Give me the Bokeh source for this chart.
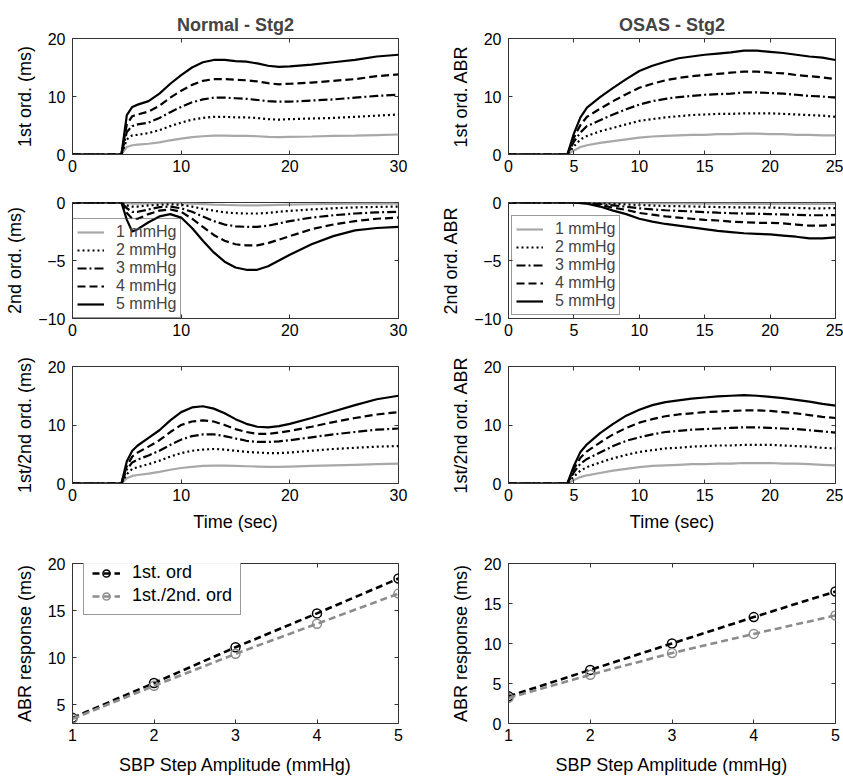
from bokeh.plotting import figure
from bokeh.models import LinearAxis, FixedTicker, Range1d, Legend, LegendItem
from bokeh.models.labeling import CustomLabelingPolicy
from bokeh.layouts import column, row
from bokeh.embed import file_html
from bokeh.resources import INLINE

FONT = "Liberation Sans"

# ---------------- data ----------------
amplitudes = ["1 mmHg", "2 mmHg", "3 mmHg", "4 mmHg", "5 mmHg"]

t_norm = [0, 4.5, 5, 5.5, 6, 7, 8, 9, 10, 11, 12, 13, 14, 15, 16, 17, 18, 19, 20, 22, 24, 26, 28, 30]
t_osas = [0, 4.5, 5, 5.5, 6, 7, 8, 9, 10, 11, 12, 13, 14, 15, 16, 17, 18, 19, 20, 21, 22, 23, 24, 25]

# Normal - 1st order
n1_1 = [0, 0, 1.3, 1.6, 1.7, 1.85, 2.1, 2.45, 2.75, 3.0, 3.15, 3.25, 3.25, 3.2, 3.2, 3.15, 3.05, 3.0, 3.05, 3.1, 3.2, 3.25, 3.35, 3.45]
n1_2 = [0, 0, 2.6, 3.3, 3.4, 3.7, 4.2, 4.9, 5.5, 6.0, 6.3, 6.5, 6.5, 6.4, 6.4, 6.3, 6.1, 6.0, 6.1, 6.2, 6.3, 6.5, 6.7, 6.9]
n1_3 = [0, 0, 3.9, 4.9, 5.2, 5.5, 6.3, 7.3, 8.2, 9.0, 9.5, 9.8, 9.8, 9.7, 9.6, 9.4, 9.2, 9.1, 9.1, 9.3, 9.5, 9.8, 10.1, 10.3]
n1_4 = [0, 0, 5.2, 6.6, 6.9, 7.4, 8.4, 9.8, 11.0, 12.0, 12.7, 13.0, 13.0, 12.9, 12.8, 12.6, 12.3, 12.1, 12.2, 12.4, 12.7, 13.0, 13.5, 13.8]
n1_5 = [0, 0, 6.8, 8.2, 8.6, 9.2, 10.5, 12.2, 13.7, 15.0, 15.9, 16.3, 16.3, 16.1, 16.0, 15.7, 15.3, 15.1, 15.2, 15.5, 15.9, 16.3, 16.9, 17.2]

# Normal - 2nd order
n2_1 = [0, 0, -0.05, -0.1, -0.1, -0.07, -0.05, -0.04, -0.06, -0.1, -0.14, -0.18, -0.21, -0.23, -0.24, -0.24, -0.22, -0.2, -0.18, -0.15, -0.12, -0.1, -0.09, -0.09]
n2_2 = [0, 0, -0.25, -0.35, -0.35, -0.25, -0.2, -0.15, -0.2, -0.35, -0.55, -0.7, -0.85, -0.92, -0.95, -0.95, -0.9, -0.8, -0.72, -0.6, -0.5, -0.42, -0.38, -0.35]
n2_3 = [0, 0, -0.5, -0.8, -0.8, -0.6, -0.4, -0.35, -0.5, -0.8, -1.2, -1.6, -1.9, -2.05, -2.1, -2.1, -2.0, -1.8, -1.6, -1.3, -1.1, -0.95, -0.85, -0.8]
n2_4 = [0, 0, -0.9, -1.4, -1.4, -1.0, -0.7, -0.6, -0.8, -1.4, -2.1, -2.8, -3.3, -3.6, -3.7, -3.7, -3.5, -3.2, -2.9, -2.3, -1.9, -1.6, -1.4, -1.3]
n2_5 = [0, 0, -1.5, -2.5, -2.3, -1.7, -1.2, -1.0, -1.3, -2.2, -3.3, -4.3, -5.1, -5.6, -5.8, -5.8, -5.5, -5.0, -4.5, -3.6, -2.9, -2.4, -2.2, -2.1]

# Normal - 1st/2nd order
n3_1 = [0, 0, 0.9, 1.3, 1.45, 1.7, 2.0, 2.35, 2.65, 2.85, 3.0, 3.05, 3.05, 3.0, 2.95, 2.9, 2.85, 2.85, 2.9, 3.0, 3.1, 3.2, 3.3, 3.4]
n3_2 = [0, 0, 1.6, 2.5, 2.8, 3.3, 3.9, 4.6, 5.2, 5.6, 5.8, 5.9, 5.8, 5.6, 5.4, 5.3, 5.2, 5.2, 5.3, 5.6, 5.9, 6.1, 6.3, 6.4]
n3_3 = [0, 0, 2.4, 3.6, 4.1, 4.8, 5.6, 6.6, 7.5, 8.1, 8.4, 8.4, 8.1, 7.7, 7.3, 7.1, 7.1, 7.2, 7.4, 7.9, 8.4, 8.8, 9.2, 9.4]
n3_4 = [0, 0, 3.0, 4.6, 5.3, 6.3, 7.4, 8.8, 10.0, 10.6, 10.8, 10.6, 10.0, 9.3, 8.8, 8.5, 8.5, 8.7, 9.0, 9.7, 10.5, 11.2, 11.8, 12.2]
n3_5 = [0, 0, 3.8, 5.6, 6.5, 7.8, 9.1, 10.8, 12.2, 13.0, 13.2, 12.8, 12.0, 11.0, 10.2, 9.7, 9.6, 9.8, 10.2, 11.2, 12.3, 13.4, 14.4, 15.0]

# OSAS - 1st order
o1_1 = [0, 0, 0.7, 1.3, 1.6, 2.0, 2.3, 2.6, 2.9, 3.1, 3.2, 3.3, 3.4, 3.4, 3.5, 3.5, 3.6, 3.6, 3.5, 3.5, 3.4, 3.4, 3.3, 3.3]
o1_2 = [0, 0, 1.4, 2.6, 3.2, 4.0, 4.6, 5.2, 5.8, 6.1, 6.4, 6.6, 6.8, 6.9, 7.0, 7.0, 7.1, 7.1, 7.1, 7.0, 6.9, 6.8, 6.7, 6.5]
o1_3 = [0, 0, 2.2, 3.8, 4.9, 5.9, 6.9, 7.8, 8.6, 9.2, 9.6, 9.9, 10.1, 10.3, 10.4, 10.5, 10.7, 10.7, 10.6, 10.5, 10.3, 10.1, 10.0, 9.8]
o1_4 = [0, 0, 2.9, 5.1, 6.5, 7.9, 9.2, 10.4, 11.5, 12.2, 12.8, 13.2, 13.5, 13.7, 13.9, 14.1, 14.3, 14.3, 14.1, 14.0, 13.7, 13.5, 13.3, 13.0]
o1_5 = [0, 0, 3.6, 6.4, 8.1, 9.9, 11.5, 13.0, 14.4, 15.3, 16.0, 16.6, 16.9, 17.2, 17.4, 17.6, 17.9, 17.9, 17.7, 17.5, 17.2, 16.9, 16.7, 16.3]

# OSAS - 2nd order
o2_1 = [0, 0, 0, 0, -0.005, -0.015, -0.03, -0.04, -0.06, -0.07, -0.07, -0.08, -0.09, -0.09, -0.1, -0.1, -0.11, -0.11, -0.11, -0.11, -0.12, -0.12, -0.12, -0.12]
o2_2 = [0, 0, 0, -0.01, -0.02, -0.06, -0.11, -0.16, -0.22, -0.26, -0.3, -0.32, -0.34, -0.37, -0.39, -0.41, -0.42, -0.43, -0.44, -0.46, -0.47, -0.5, -0.5, -0.48]
o2_3 = [0, 0, 0, -0.02, -0.04, -0.13, -0.25, -0.36, -0.5, -0.6, -0.67, -0.72, -0.77, -0.83, -0.88, -0.92, -0.95, -0.97, -1.0, -1.03, -1.06, -1.1, -1.1, -1.08]
o2_4 = [0, 0, 0, -0.03, -0.06, -0.22, -0.45, -0.64, -0.9, -1.05, -1.2, -1.3, -1.4, -1.5, -1.55, -1.65, -1.7, -1.75, -1.75, -1.8, -1.9, -2.0, -2.0, -1.9]
o2_5 = [0, 0, 0, -0.05, -0.1, -0.35, -0.7, -1.0, -1.4, -1.65, -1.85, -2.0, -2.15, -2.3, -2.45, -2.55, -2.65, -2.7, -2.75, -2.85, -2.95, -3.1, -3.1, -3.0]

# OSAS - 1st/2nd order
o3_1 = [0, 0, 0.6, 1.1, 1.4, 1.8, 2.2, 2.5, 2.8, 3.0, 3.1, 3.2, 3.3, 3.3, 3.4, 3.4, 3.5, 3.5, 3.5, 3.4, 3.4, 3.3, 3.2, 3.1]
o3_2 = [0, 0, 1.2, 2.2, 2.8, 3.6, 4.3, 4.9, 5.4, 5.7, 6.0, 6.1, 6.3, 6.4, 6.5, 6.5, 6.6, 6.6, 6.6, 6.5, 6.4, 6.3, 6.1, 6.0]
o3_3 = [0, 0, 1.9, 3.4, 4.2, 5.3, 6.4, 7.3, 7.9, 8.4, 8.8, 9.0, 9.2, 9.3, 9.4, 9.5, 9.6, 9.6, 9.5, 9.4, 9.3, 9.1, 8.9, 8.7]
o3_4 = [0, 0, 2.5, 4.4, 5.5, 7.0, 8.4, 9.5, 10.4, 11.0, 11.5, 11.8, 12.0, 12.2, 12.3, 12.4, 12.5, 12.5, 12.4, 12.2, 12.0, 11.7, 11.4, 11.2]
o3_5 = [0, 0, 3.0, 5.4, 6.7, 8.6, 10.2, 11.6, 12.6, 13.4, 13.9, 14.2, 14.5, 14.7, 14.9, 15.0, 15.1, 15.0, 14.8, 14.6, 14.3, 14.0, 13.6, 13.3]

# ABR response vs SBP step amplitude
sbp_amp = [1, 2, 3, 4, 5]
norm_first = [3.6, 7.3, 11.1, 14.7, 18.4]
norm_both = [3.5, 7.0, 10.4, 13.6, 16.8]
osas_first = [3.4, 6.7, 10.0, 13.3, 16.5]
osas_both = [3.2, 6.1, 8.8, 11.2, 13.5]

# ---------------- styles ----------------
STYLES = [
    dict(line_color="#a8a8a8", line_dash="solid"),
    dict(line_color="black", line_dash="2 3"),
    dict(line_color="black", line_dash="9 3 2 3"),
    dict(line_color="black", line_dash="8 4"),
    dict(line_color="black", line_dash="solid"),
]
AXIS_COLOR = "#333333"


def make_fig(w, h, bl, br, bt, bb, xr, yr, xt, yt, xlabel=None, ylabel=None, title=None,
             xlabel_standoff=4):
    p = figure(width=w, height=h, x_range=Range1d(*xr), y_range=Range1d(*yr),
               output_backend="svg", toolbar_location=None,
               min_border_left=bl, min_border_right=br,
               min_border_top=bt, min_border_bottom=bb,
               background_fill_color="white", border_fill_color="white")
    p.xgrid.visible = False
    p.ygrid.visible = False
    p.outline_line_color = AXIS_COLOR
    p.outline_line_width = 1
    if title:
        p.title.text = title
        p.title.align = "center"
        p.title.text_font = FONT
        p.title.text_font_size = "18px"
        p.title.text_font_style = "bold"
        p.title.standoff = 7
    p.xaxis.ticker = FixedTicker(ticks=xt)
    p.yaxis.ticker = FixedTicker(ticks=yt)
    for ax in (p.xaxis[0], p.yaxis[0]):
        ax.major_tick_in = 4
        ax.major_tick_out = 0
        ax.minor_tick_in = 0
        ax.minor_tick_out = 0
        ax.axis_line_color = AXIS_COLOR
        ax.major_tick_line_color = AXIS_COLOR
        ax.major_label_text_font = FONT
        ax.major_label_text_font_size = "16px"
        ax.major_label_text_color = "black"
        ax.axis_label_text_font = FONT
        ax.axis_label_text_font_size = "18px"
        ax.axis_label_text_font_style = "normal"
        ax.axis_label_text_color = "black"
    p.xaxis.major_label_standoff = 5
    p.xaxis.axis_label_standoff = xlabel_standoff
    p.yaxis.major_label_standoff = 7
    p.yaxis.axis_label_standoff = 10
    if xlabel:
        p.xaxis.axis_label = xlabel
    if ylabel:
        p.yaxis.axis_label = ylabel
    # mirrored inward ticks on the top and right edges (MATLAB box style), no labels
    for place, tk in (("above", xt), ("right", yt)):
        ax = LinearAxis(ticker=FixedTicker(ticks=tk), major_tick_in=4, major_tick_out=0,
                        minor_tick_in=0, minor_tick_out=0, axis_line_color=None,
                        major_tick_line_color=AXIS_COLOR, major_label_standoff=0,
                        major_label_text_font_size="0px",
                        major_label_policy=CustomLabelingPolicy(code="return []"))
        p.add_layout(ax, place)
    return p


def add_curves(p, t, series, legend=False, legend_margin=0):
    rends = []
    for ys, st in zip(series, STYLES):
        r = p.line(t, ys, line_width=2.2, **st)
        rends.append(r)
    if legend:
        lg = Legend(items=[LegendItem(label=lab, renderers=[r]) for lab, r in zip(amplitudes, rends)],
                    location="bottom_left", margin=legend_margin, padding=4, spacing=0,
                    label_height=18, glyph_height=18, glyph_width=27, label_standoff=12,
                    label_text_font=FONT, label_text_font_size="16px",
                    label_text_color="#444444",
                    border_line_color=AXIS_COLOR, border_line_width=1,
                    background_fill_alpha=0)
        p.add_layout(lg)


LW, RW = 420, 423
LB, LR = 72, 22
RB, RR = 88, 8

# Row 1
f11 = make_fig(LW, 180, LB, LR, 38, 26, (0, 30), (0, 20), [0, 10, 20, 30], [0, 10, 20],
               ylabel="1st ord. (ms)", title="Normal - Stg2")
add_curves(f11, t_norm, [n1_1, n1_2, n1_3, n1_4, n1_5])
f12 = make_fig(RW, 180, RB, RR, 38, 26, (0, 25), (0, 20), [0, 5, 10, 15, 20, 25], [0, 10, 20],
               ylabel="1st ord. ABR", title="OSAS - Stg2")
add_curves(f12, t_osas, [o1_1, o1_2, o1_3, o1_4, o1_5])

# Row 2
f21 = make_fig(LW, 164, LB, LR, 22, 26, (0, 30), (-10, 0), [0, 10, 20, 30], [-10, -5, 0],
               ylabel="2nd ord. (ms)")
add_curves(f21, t_norm, [n2_1, n2_2, n2_3, n2_4, n2_5], legend=True, legend_margin=0)
f22 = make_fig(RW, 164, RB, RR, 22, 26, (0, 25), (-10, 0), [0, 5, 10, 15, 20, 25], [-10, -5, 0],
               ylabel="2nd ord. ABR")
add_curves(f22, t_osas, [o2_1, o2_2, o2_3, o2_4, o2_5], legend=True, legend_margin=3)

# Row 3
f31 = make_fig(LW, 191, LB, LR, 22, 52, (0, 30), (0, 20), [0, 10, 20, 30], [0, 10, 20],
               xlabel="Time (sec)", ylabel="1st/2nd ord. (ms)", xlabel_standoff=8)
add_curves(f31, t_norm, [n3_1, n3_2, n3_3, n3_4, n3_5])
f32 = make_fig(RW, 191, RB, RR, 22, 52, (0, 25), (0, 20), [0, 5, 10, 15, 20, 25], [0, 10, 20],
               xlabel="Time (sec)", ylabel="1st/2nd ord. ABR", xlabel_standoff=8)
add_curves(f32, t_osas, [o3_1, o3_2, o3_3, o3_4, o3_5])


# Row 4
def abr_panel(w, bl, br, bt, yr, yt, first, both, legend):
    p = make_fig(w, 245, bl, br, bt, 57, (1, 5), yr, [1, 2, 3, 4, 5], yt,
                 xlabel="SBP Step Amplitude (mmHg)", ylabel="ABR response (ms)",
                 xlabel_standoff=11)
    l1 = p.line(sbp_amp, first, line_color="black", line_width=2.6, line_dash="7 4")
    m1 = p.scatter(sbp_amp, first, size=9, line_color="black", line_width=1.5, fill_color=None)
    l2 = p.line(sbp_amp, both, line_color="#8c8c8c", line_width=2.6, line_dash="7 4")
    m2 = p.scatter(sbp_amp, both, size=9, line_color="#8c8c8c", line_width=1.5, fill_color=None)
    if legend:
        lg = Legend(items=[LegendItem(label="1st. ord", renderers=[l1, m1]),
                           LegendItem(label="1st./2nd. ord", renderers=[l2, m2])],
                    location=(11, 108), margin=0, padding=8, spacing=2,
                    label_height=18, glyph_height=18, glyph_width=28, label_standoff=12,
                    label_text_font=FONT, label_text_font_size="18px",
                    label_text_color="black",
                    border_line_color=AXIS_COLOR, border_line_width=1,
                    background_fill_color="white")
        p.add_layout(lg)
    return p


f41 = abr_panel(LW, LB, LR, 22, (3, 20), [5, 10, 15, 20], norm_first, norm_both, True)
f42 = abr_panel(RW, RB, RR, 28, (0, 20), [0, 5, 10, 15, 20], osas_first, osas_both, False)

layout = column(row(f11, f12), row(f21, f22), row(f31, f32), row(f41, f42))

open("out.html", "w").write(file_html(layout, INLINE))
